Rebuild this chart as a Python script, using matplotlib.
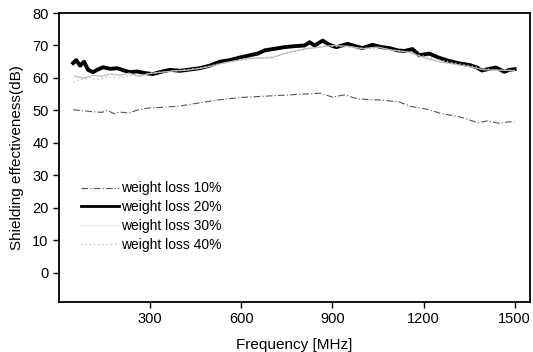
import matplotlib
matplotlib.use("Agg")
import matplotlib.pyplot as plt

plt.rcParams['font.family'] = ['Liberation Sans', 'DejaVu Sans']

# Frequency [MHz] and shielding effectiveness [dB]
freq_10 = [46, 80, 110, 140, 160, 180, 200, 230, 260, 300, 350, 400, 460, 520, 600, 680, 760, 800, 860, 900, 940, 980, 1010, 1060, 1120, 1160, 1210, 1260, 1320, 1380, 1410, 1450, 1480, 1500]
se_10 = [50.2, 49.9, 49.6, 49.4, 50.0, 49.0, 49.5, 49.2, 50.2, 50.8, 51.0, 51.4, 52.3, 53.2, 54.0, 54.4, 54.8, 55.0, 55.3, 54.1, 54.8, 53.6, 53.4, 53.2, 52.6, 51.2, 50.4, 49.0, 48.0, 46.2, 46.8, 46.0, 46.5, 46.4]

freq_20 = [46, 56, 69, 82, 95, 112, 125, 145, 168, 191, 214, 233, 256, 283, 309, 332, 365, 398, 430, 463, 496, 529, 562, 595, 628, 654, 677, 710, 743, 776, 808, 825, 841, 868, 890, 913, 950, 979, 999, 1032, 1061, 1088, 1114, 1137, 1163, 1186, 1219, 1252, 1285, 1318, 1351, 1374, 1393, 1416, 1439, 1466, 1482, 1500]
se_20 = [64.6, 65.5, 63.8, 65.0, 62.5, 61.8, 62.5, 63.3, 62.8, 63.0, 62.3, 61.8, 62.0, 61.5, 61.2, 61.8, 62.5, 62.2, 62.6, 63.0, 63.8, 65.0, 65.5, 66.3, 67.0, 67.5, 68.5, 69.0, 69.5, 69.8, 70.0, 71.0, 70.0, 71.5, 70.2, 69.5, 70.5, 69.7, 69.2, 70.2, 69.5, 69.2, 68.5, 68.3, 68.9, 67.0, 67.5, 66.2, 65.2, 64.5, 64.0, 63.3, 62.3, 62.8, 63.2, 61.9, 62.5, 62.7]

freq_30 = [50, 80, 110, 140, 170, 200, 230, 260, 290, 310, 340, 380, 420, 460, 500, 540, 580, 620, 660, 700, 740, 780, 810, 850, 900, 950, 1000, 1050, 1100, 1150, 1200, 1250, 1300, 1350, 1400, 1450, 1500]
se_30 = [60.5, 60.0, 60.8, 60.5, 61.2, 60.8, 61.5, 60.5, 61.2, 61.5, 61.8, 62.2, 62.4, 62.9, 63.6, 64.6, 65.3, 66.0, 66.1, 66.2, 67.5, 68.4, 69.0, 69.4, 70.0, 69.8, 69.0, 69.5, 68.5, 68.0, 66.3, 65.0, 64.3, 63.5, 62.5, 62.4, 62.3]

freq_40 = [46, 70, 100, 130, 160, 200, 240, 270, 300, 340, 400, 460, 520, 580, 640, 700, 760, 820, 880, 940, 1000, 1060, 1120, 1180, 1240, 1300, 1360, 1420, 1500]
se_40 = [58.8, 59.5, 60.0, 59.5, 60.2, 60.0, 61.0, 60.8, 61.5, 61.8, 62.3, 63.0, 64.2, 65.2, 66.0, 66.5, 67.8, 69.0, 69.8, 69.6, 69.2, 69.0, 68.4, 67.2, 65.8, 64.6, 63.6, 62.6, 62.2]

labels = ['weight loss 10%', 'weight loss 20%', 'weight loss 30%', 'weight loss 40%']
x_ticks = [300, 600, 900, 1200, 1500]
y_ticks = [0, 10, 20, 30, 40, 50, 60, 70, 80]

fig = plt.figure(figsize=(5.33, 3.52), dpi=100)
ax = fig.add_axes([0.111, 0.142, 0.883, 0.821])

ax.plot(freq_10, se_10, color='#555555', lw=0.8, linestyle=(0, (6, 2, 1, 2)), label=labels[0])
ax.plot(freq_20, se_20, color='black', lw=2.8, label=labels[1])
ax.plot(freq_30, se_30, color='#bdbdbd', lw=0.9, label=labels[2])
ax.plot(freq_40, se_40, color='#bbbbbb', lw=1.0, linestyle=(0, (1, 2)), label=labels[3])

ax.set_xlim(0, 1550)
ax.set_ylim(-9, 80)
ax.set_xticks(x_ticks)
ax.set_yticks(y_ticks)
ax.tick_params(direction='out', length=4, width=1, labelsize=10.5, colors='black')
for s in ax.spines.values():
    s.set_linewidth(1.3)

ax.set_xlabel('Frequency [MHz]', fontsize=11, labelpad=8)
ax.set_ylabel('Shielding effectiveness(dB)', fontsize=11, labelpad=6)

leg = ax.legend(loc='center left', bbox_to_anchor=(0.035, 0.295), frameon=False,
                fontsize=10, handlelength=2.7, handletextpad=0.15, labelspacing=0.35,
                borderaxespad=0)
leg_lines = leg.get_lines()
leg_lines[1].set_linewidth(2.0)
leg_lines[2].set_color('#e6e6e6')

fig.savefig('out.png', dpi=100)
